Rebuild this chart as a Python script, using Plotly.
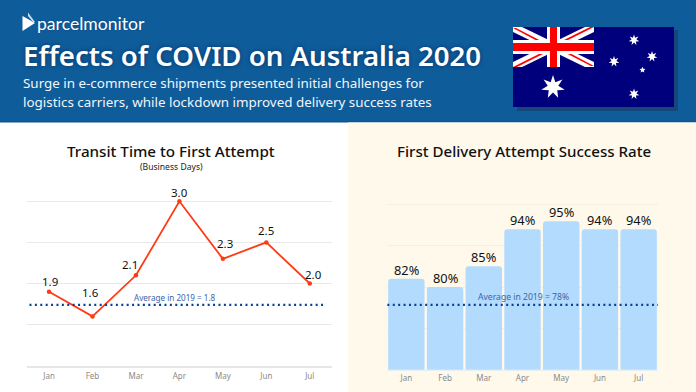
import math
import plotly.graph_objects as go

W, H = 696, 392

months = ["Jan", "Feb", "Mar", "Apr", "May", "Jun", "Jul"]
transit_days = [1.9, 1.6, 2.1, 3.0, 2.3, 2.5, 2.0]
transit_labels = ["1.9", "1.6", "2.1", "3.0", "2.3", "2.5", "2.0"]
transit_avg_drawn = 1.74
success_rate = [82, 80, 85, 94, 95.9, 94, 94]
success_labels = ["82%", "80%", "85%", "94%", "95%", "94%", "94%"]
success_avg_drawn = 75.7

title = "Effects of COVID on Australia 2020"
subtitle_1 = "Surge in e-commerce shipments presented initial challenges for"
subtitle_2 = "logistics carriers, while lockdown improved delivery success rates"
left_title = "Transit Time to First Attempt"
left_sub = "(Business Days)"
right_title = "First Delivery Attempt Success Rate"
left_avg = "Average in 2019 = 1.8"
right_avg = "Average in 2019 = 78%"

# pixel offsets of the value labels from their points
left_dx = [1, -2, -6, 0, 2, 0, 4]
left_dy = [10, 24, 11, 9, 15, 12, 9]

BODY = "Noto Sans"
NUM = "Noto Sans"
BLUE = "#0F5C9B"
CREAM = "#FFF9EC"
NAVY = "#00007D"
RED = "#FF0000"


def px(x):
    return x / W


def py(y):
    return 1 - y / H


def rect(x0, y0, x1, y1, fill):
    return dict(type="rect", xref="paper", yref="paper", x0=px(x0), x1=px(x1),
                y0=py(y1), y1=py(y0), fillcolor=fill, line_width=0, layer="below")


def poly(points, fill):
    d = "M " + " L ".join(f"{px(x):.5f},{py(y):.5f}" for x, y in points) + " Z"
    return dict(type="path", xref="paper", yref="paper", path=d, fillcolor=fill,
                line_width=0, layer="below")


def star(cx, cy, r, n=7, inner=0.45):
    pts = []
    for i in range(2 * n):
        a = -math.pi / 2 + i * math.pi / n
        rr = r if i % 2 == 0 else r * inner
        pts.append((cx + rr * math.cos(a), cy + rr * math.sin(a)))
    return poly(pts, "#FFFFFF")


shapes = [
    rect(0, 0, W, 122, BLUE),
    rect(0, 121, W, 122.5, "#0B5591"),
    rect(348, 122.5, W, H, CREAM),
    # flag
    rect(517, 30, 678, 111, "#17477A"),
    rect(513, 27, 674, 107, NAVY),
]
fx0, fx1, fy0, fy1 = 513, 594, 27, 67
shapes += [
    poly([(fx0, fy0), (fx0 + 9, fy0), (fx1, fy1 - 5), (fx1, fy1), (fx1 - 9, fy1), (fx0, fy0 + 5)], "#FFFFFF"),
    poly([(fx1, fy0), (fx1 - 9, fy0), (fx0, fy1 - 5), (fx0, fy1), (fx0 + 9, fy1), (fx1, fy0 + 5)], "#FFFFFF"),
    poly([(fx0, fy0 + 1), (fx0 + 3, fy0 + 1), (547, 44), (543, 44)], RED),
    poly([(fx1, fy0), (fx1 - 4, fy0), (558, 43), (562, 43)], RED),
    poly([(fx0, fy1), (fx0 + 4, fy1), (549, 51), (545, 51)], RED),
    poly([(fx1, fy1 - 1), (fx1 - 3, fy1 - 1), (560, 50), (564, 50)], RED),
    rect(547, fy0, 560, fy1, "#FFFFFF"),
    rect(fx0, 40, fx1, 54, "#FFFFFF"),
    rect(550, fy0, 557, fy1, RED),
    rect(fx0, 43, fx1, 51, RED),
    star(553, 87, 12),
    star(634, 40, 5.5),
    star(652, 56.5, 5.5),
    star(642.5, 70, 3.2, n=5),
    star(614, 61.5, 5.5),
    star(634, 94, 5.5),
    # logo mark
    poly([(22.5, 16), (35, 23), (22.5, 31)], "#FFFFFF"),
    poly([(28, 12.5), (35, 22), (33, 22), (28, 16)], "#C9DCEB"),
]

fig = go.Figure()

fig.add_trace(go.Scatter(
    x=months, y=transit_days, mode="lines+markers", xaxis="x", yaxis="y",
    line=dict(color="#FF3B14", width=1.8), marker=dict(color="#FF3B14", size=4.5),
    hoverinfo="skip", cliponaxis=False, showlegend=False))
fig.add_trace(go.Scatter(
    x=[0.05, 6.85], y=[transit_avg_drawn] * 2, mode="lines", xaxis="x4", yaxis="y",
    line=dict(color="#0B3F94", width=2.2, dash="2px 3.4px"),
    hoverinfo="skip", cliponaxis=False, showlegend=False))

fig.add_trace(go.Bar(
    x=months, y=success_rate, xaxis="x2", yaxis="y2", width=0.94,
    marker=dict(color="#B3DBFE", cornerradius=3, line_width=0),
    hoverinfo="skip", cliponaxis=True, showlegend=False))
fig.add_trace(go.Scatter(
    x=[-0.13, 7.2], y=[success_avg_drawn] * 2, mode="lines", xaxis="x3", yaxis="y2",
    line=dict(color="#0B3F94", width=2.2, dash="2px 3.4px"),
    hoverinfo="skip", cliponaxis=False, showlegend=False))


def text(x, y, s, size, color="#111111", family=BODY, anchor="left", shadow=None, weight=400):
    font = dict(size=size, color=color, family=family, weight=weight)
    if shadow:
        font["shadow"] = shadow
    return dict(xref="paper", yref="paper", x=px(x), y=py(y), text=s, showarrow=False,
                xanchor=anchor, yanchor="middle", xshift=0, font=font, borderpad=0)


glow = "0px 0px 4px rgba(6,40,80,0.75)"
annotations = [
    text(36, 23.5, "parcelmonitor", 17.6, "#FFFFFF", "Lato", shadow="0px 0px 2px rgba(6,40,80,0.4)"),
    text(22, 54.5, title, 27.6, "#FFFFFF", "Noto Sans", shadow=glow, weight=600),
    text(22, 83.5, subtitle_1, 13.4, "#F2F6FA", BODY),
    text(22, 102, subtitle_2, 13.4, "#F2F6FA", BODY),
    text(171, 151, left_title, 15.2, "#111111", BODY, "center", weight=500),
    text(171, 166.5, left_sub, 8.6, "#222222", BODY, "center"),
    text(523.5, 151, right_title, 15.1, "#111111", BODY, "center", weight=500),
    text(175, 297, left_avg, 8.1, "#3A66A8", BODY, "center"),
    text(523.5, 297, right_avg, 8.6, "#3A66A8", BODY, "center"),
]
for m, v, s, dx, dy in zip(months, transit_days, transit_labels, left_dx, left_dy):
    annotations.append(dict(xref="x", yref="y", x=m, y=v, text=s, showarrow=False,
                            xshift=dx, yshift=dy, yanchor="middle",
                            font=dict(size=11.5, color="#111111", family=NUM)))
for m, v, s in zip(months, success_rate, success_labels):
    annotations.append(dict(xref="x2", yref="y2", x=m, y=v, text=s, showarrow=False,
                            yanchor="bottom", yshift=-2,
                            font=dict(size=12.8, color="#111111", family=NUM)))

tickfont = dict(size=8, color="#8A8A8A", family=BODY)
fig.update_layout(
    width=W, height=H, margin=dict(l=0, r=0, t=0, b=0, pad=0), autosize=False,
    paper_bgcolor="#FFFFFF", plot_bgcolor="rgba(0,0,0,0)", shapes=shapes,
    annotations=annotations, bargap=0.06, dragmode=False,
    xaxis=dict(domain=[px(27.3), px(331.5)], range=[-0.5, 6.5], type="category",
               categoryorder="array", categoryarray=months, showgrid=False, zeroline=False,
               showline=True, linecolor="#E6E6E6", linewidth=1.5, ticks="", tickfont=tickfont,
               ticklabelstandoff=2, fixedrange=True),
    # the ranges run a little past the top value so that plotly keeps the top gridline
    yaxis=dict(domain=[py(365.7), py(197.2)], range=[1, 3.05], tick0=1, dtick=0.5, showgrid=True,
               gridcolor="#E9E9E9", gridwidth=1.2, zeroline=False,
               showticklabels=False, ticks="", fixedrange=True),
    xaxis2=dict(domain=[px(387), px(658)], range=[-0.5, 6.5], type="category",
                categoryorder="array", categoryarray=months, anchor="y2", showgrid=False,
                zeroline=False, showline=True, linecolor="#E8EDF0", linewidth=1, ticks="",
                tickfont=tickfont, ticklabelstandoff=1, fixedrange=True),
    yaxis2=dict(domain=[py(369.7), py(200.2)], range=[60, 101], tick0=60, dtick=10, anchor="x2",
                showgrid=True, gridcolor="#F4EFE4", gridwidth=1, zeroline=False,
                showticklabels=False, ticks="", fixedrange=True),
    xaxis3=dict(domain=[px(387), px(658)], range=[0, 7], anchor="y2", overlaying="x2",
                visible=False, fixedrange=True),
    xaxis4=dict(domain=[px(27.3), px(331.5)], range=[0, 7], anchor="y", overlaying="x",
                visible=False, fixedrange=True),
)

fig.write_html("out.html", config=dict(displayModeBar=False),
               post_script="document.body.style.margin='0';window.dispatchEvent(new Event('resize'));")
